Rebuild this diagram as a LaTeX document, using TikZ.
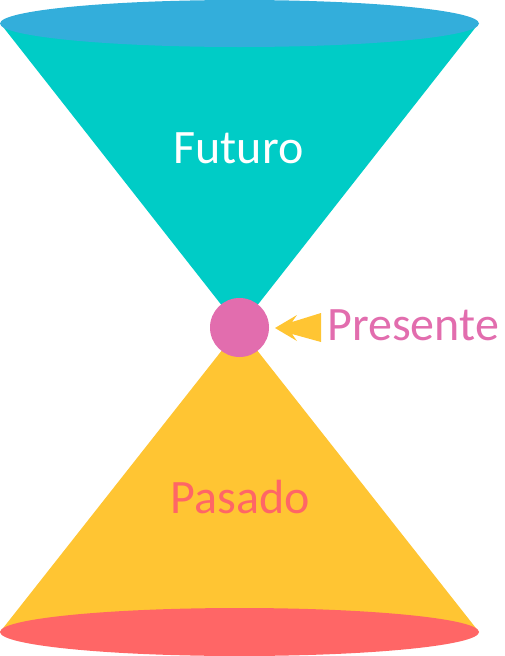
\documentclass[tikz,border=0pt]{standalone}
\usepackage{fontspec}
\setmainfont{Carlito}
\definecolor{teal1}{RGB}{0,204,198}
\definecolor{blue1}{RGB}{51,174,219}
\definecolor{yellow1}{RGB}{255,197,51}
\definecolor{red1}{RGB}{255,102,102}
\definecolor{pink1}{RGB}{226,109,174}
\begin{document}
\begin{tikzpicture}[x=1pt,y=-1pt,
  lbl/.style={font=\fontsize{48}{52}\selectfont, inner sep=0pt, anchor=base}]
\useasboundingbox (0,0) rectangle (504,656);
% cones
\fill[teal1] (0,23) -- (479,23) -- (239.5,328) -- cycle;
\fill[yellow1] (0,632) -- (479,632) -- (239.5,328) -- cycle;
% ellipses
\fill[blue1] (239.5,23.5) ellipse [x radius=239.5, y radius=23.5];
\fill[red1] (239.5,632) ellipse [x radius=239.5, y radius=24];
% present
\node[circle, fill=pink1, minimum size=59pt, inner sep=0pt] (pres) at (239.5,327.5) {};
\fill[yellow1] (275,328) -- (297,315) -- (292,322) -- (321,313) -- (321,342) -- (292,334) -- (297,341) -- cycle;
\node[lbl, text=pink1, anchor=base west] (presente) at (327,340) {Presente};
\node[lbl, text=white] (futuro) at (238.5,163) {Futuro};
\node[lbl, text=red1] (pasado) at (240,513) {Pasado};
\end{tikzpicture}
\end{document}
